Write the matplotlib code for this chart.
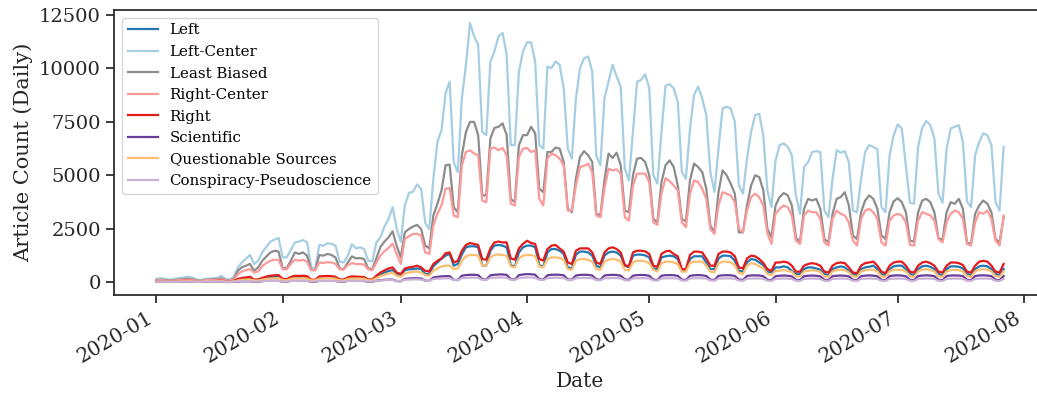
import matplotlib
matplotlib.use("Agg")
import matplotlib.pyplot as plt
import matplotlib.dates as mdates
import pandas as pd

# Daily article counts, 2020-01-01 .. 2020-07-27 (one row per Mon..Sun week)
left = [
    30, 40, 30, 20, 20,
    40, 50, 50, 60, 50, 20, 20,
    40, 40, 50, 50, 60, 30, 30,
    40, 100, 150, 170, 180, 100, 100,
    150, 200, 230, 240, 250, 120, 110,
    190, 230, 230, 240, 220, 100, 90,
    210, 220, 230, 220, 200, 100, 100,
    180, 210, 200, 200, 190, 100, 100,
    230, 350, 450, 520, 560, 370, 300,
    560, 600, 610, 640, 610, 380, 380,
    750, 920, 1100, 1240, 1320, 770, 850,
    1300, 1630, 1680, 1680, 1630, 770, 770,
    1470, 1710, 1740, 1710, 1630, 800, 720,
    1390, 1630, 1710, 1710, 1630, 800, 720,
    1390, 1550, 1550, 1470, 1320, 690, 640,
    1290, 1430, 1430, 1390, 1240, 770, 690,
    1240, 1390, 1430, 1390, 1240, 770, 690,
    1240, 1290, 1290, 1250, 1160, 640, 610,
    1160, 1210, 1240, 1210, 1080, 530, 530,
    1080, 1210, 1210, 1210, 920, 610, 610,
    1110, 1240, 1240, 1210, 1000, 530, 490,
    920, 1080, 1050, 920, 800, 490, 450,
    690, 690, 740, 690, 530, 380, 380,
    610, 690, 690, 640, 580, 380, 330,
    610, 690, 740, 690, 530, 380, 330,
    610, 690, 720, 770, 610, 380, 330,
    610, 740, 770, 770, 610, 380, 330,
    610, 740, 770, 720, 610, 380, 330,
    610, 740, 740, 720, 640, 380, 330,
    610, 740, 770, 740, 610, 380, 330,
    610,
]

left_center = [
    150, 180, 160, 120, 130,
    170, 200, 230, 260, 200, 110, 100,
    150, 170, 180, 200, 300, 150, 120,
    250, 690, 920, 1100, 1270, 850, 1000,
    1400, 1650, 1900, 1990, 2070, 1160, 1160,
    1500, 1860, 1900, 1970, 1870, 700, 620,
    1740, 1710, 1820, 1790, 1700, 960, 920,
    1240, 1780, 1580, 1630, 1550, 1000, 970,
    1860, 2100, 2600, 2960, 3510, 2500, 1890,
    3590, 4180, 4230, 4570, 4370, 2770, 2490,
    4840, 6560, 7110, 8840, 9380, 5620, 5150,
    8600, 10170, 12130, 11500, 11110, 7030, 6880,
    10330, 10800, 11500, 11660, 10640, 6410, 6410,
    9850, 10800, 11220, 11220, 10330, 6410, 6250,
    10090, 10010, 10330, 10170, 9070, 6250, 5780,
    8600, 10010, 10480, 10560, 9850, 5930, 5460,
    8600, 9380, 10170, 9620, 9150, 5310, 4760,
    7030, 9380, 9460, 9730, 9070, 5000, 4610,
    7030, 9200, 9260, 9070, 8440, 5150, 4840,
    7180, 8760, 9150, 8600, 7820, 5150, 4220,
    6250, 8130, 8210, 8130, 7510, 4530, 4140,
    5780, 7030, 7820, 7880, 6850, 4300, 3510,
    5700, 6410, 6490, 6330, 5940, 4060, 3200,
    5390, 5620, 6090, 6130, 6090, 3350, 3040,
    4840, 6170, 6060, 6130, 5620, 3350, 3270,
    4840, 6090, 6410, 6330, 6220, 3510, 3270,
    5940, 6880, 7380, 7190, 5470, 3710, 3670,
    6330, 7220, 7540, 7350, 6720, 4140, 3710,
    6250, 7190, 7270, 7350, 6560, 3780, 3510,
    5940, 6560, 6960, 6880, 6410, 3750, 3350,
    6330,
]

least_biased = [
    100, 110, 100, 80, 80,
    110, 130, 150, 160, 130, 80, 70,
    110, 120, 130, 140, 180, 100, 80,
    150, 530, 700, 770, 850, 530, 690,
    1000, 1200, 1390, 1470, 1430, 660, 650,
    1000, 1390, 1320, 1390, 1240, 570, 560,
    1270, 1240, 1320, 1270, 1150, 640, 610,
    920, 1210, 1110, 1130, 1080, 640, 610,
    1110, 1650, 1900, 2100, 2380, 1700, 1160,
    2330, 2490, 2600, 2680, 2490, 1710, 1580,
    3120, 3670, 4290, 5470, 5500, 3510, 3270,
    5940, 7030, 7500, 7500, 6880, 4060, 4060,
    6720, 7220, 7270, 7430, 6880, 3900, 3740,
    6410, 6880, 6880, 7270, 6960, 4370, 4210,
    6090, 6090, 6300, 6250, 5620, 3430, 3270,
    4840, 5860, 6130, 5940, 5620, 3200, 3120,
    4760, 6020, 5810, 6060, 5470, 3350, 3270,
    5000, 5780, 5810, 5620, 5000, 2960, 2800,
    4680, 5470, 5700, 5390, 4530, 2960, 2840,
    4760, 5550, 5390, 5150, 4370, 2650, 2330,
    4210, 5230, 5000, 4610, 4140, 2330, 2330,
    3590, 4530, 5000, 4920, 4300, 2490, 2100,
    3590, 3980, 4170, 4060, 3590, 2100, 1860,
    3430, 3900, 3820, 3900, 3430, 2020, 1860,
    3200, 3900, 3980, 4210, 3590, 2180, 2020,
    3270, 3820, 4060, 3900, 3430, 2180, 2020,
    3270, 3780, 3930, 3740, 3270, 1940, 1900,
    3270, 3820, 3900, 3740, 3270, 2050, 1990,
    3270, 3740, 3670, 3900, 3430, 1860, 1790,
    3200, 3590, 3820, 3670, 3270, 2020, 1860,
    3040,
]

right_center = [
    80, 90, 80, 60, 60,
    90, 100, 110, 120, 100, 60, 60,
    90, 100, 100, 110, 130, 80, 70,
    120, 380, 500, 560, 610, 450, 500,
    750, 900, 1000, 1050, 1050, 600, 600,
    850, 1050, 1000, 1050, 950, 560, 560,
    920, 900, 930, 920, 850, 600, 580,
    800, 890, 850, 850, 820, 600, 560,
    900, 1240, 1450, 1600, 1800, 1300, 850,
    2020, 2150, 2260, 2260, 2180, 1390, 1320,
    2650, 3200, 3590, 4370, 4400, 3120, 3040,
    5470, 6090, 6170, 6020, 5940, 3820, 3740,
    6250, 6300, 6170, 6280, 5940, 3670, 3590,
    5860, 6250, 6280, 6090, 6170, 3900, 3590,
    5780, 6020, 5940, 5780, 5470, 3350, 3350,
    4530, 5390, 5440, 5550, 5150, 3120, 3040,
    4370, 5310, 5230, 5280, 5080, 3040, 2880,
    4530, 5080, 5080, 5080, 4680, 2800, 2680,
    4140, 4870, 4720, 4530, 4290, 2800, 2570,
    4140, 4760, 4680, 4370, 3900, 2490, 2260,
    3590, 4210, 4140, 4060, 3740, 2490, 2330,
    3350, 3980, 4140, 3980, 3590, 2300, 1790,
    3200, 3430, 3590, 3510, 3120, 1940, 1790,
    3120, 3350, 3270, 3270, 2960, 1860, 1710,
    2960, 3350, 3200, 3120, 2800, 1940, 1710,
    2960, 3350, 3430, 3270, 2960, 1860, 1710,
    2880, 3120, 3200, 3120, 2800, 1740, 1710,
    2880, 3270, 3200, 3120, 2880, 2020, 1860,
    2800, 3200, 3350, 3270, 2960, 1790, 1710,
    2800, 3270, 3200, 3350, 2960, 1940, 1710,
    3120,
]

right = [
    30, 40, 30, 20, 20,
    40, 50, 60, 60, 50, 20, 20,
    40, 50, 50, 60, 70, 30, 30,
    60, 150, 200, 220, 250, 120, 130,
    200, 260, 300, 320, 330, 150, 140,
    240, 300, 290, 300, 280, 120, 110,
    270, 280, 290, 280, 250, 130, 120,
    220, 270, 260, 250, 240, 130, 120,
    300, 450, 550, 640, 690, 450, 380,
    640, 690, 720, 770, 690, 530, 500,
    850, 1000, 1110, 1350, 1390, 920, 1000,
    1470, 1740, 1830, 1790, 1740, 1080, 1050,
    1580, 1860, 1900, 1860, 1860, 1110, 1050,
    1580, 1790, 1940, 1830, 1790, 1080, 1010,
    1550, 1710, 1740, 1580, 1430, 920, 850,
    1470, 1580, 1580, 1580, 1390, 920, 850,
    1390, 1580, 1630, 1550, 1390, 800, 740,
    1390, 1470, 1470, 1440, 1320, 770, 720,
    1320, 1440, 1470, 1320, 1210, 610, 610,
    1270, 1430, 1430, 1390, 1110, 770, 770,
    1320, 1430, 1430, 1390, 1210, 690, 640,
    1110, 1240, 1210, 1080, 900, 610, 530,
    920, 920, 960, 920, 770, 490, 490,
    770, 850, 890, 850, 770, 490, 450,
    770, 890, 920, 890, 690, 450, 420,
    770, 890, 920, 960, 770, 490, 420,
    770, 920, 960, 960, 770, 490, 450,
    770, 920, 960, 890, 770, 490, 450,
    770, 920, 920, 890, 800, 490, 450,
    770, 960, 1000, 960, 770, 490, 450,
    850,
]

scientific = [
    10, 10, 10, 5, 5,
    10, 15, 15, 15, 15, 5, 5,
    15, 15, 20, 20, 20, 5, 5,
    20, 30, 40, 40, 40, 10, 10,
    50, 60, 60, 60, 60, 20, 20,
    60, 60, 60, 60, 60, 20, 15,
    60, 60, 60, 60, 55, 20, 15,
    60, 60, 60, 60, 55, 20, 15,
    70, 90, 110, 120, 120, 50, 40,
    150, 170, 180, 180, 170, 70, 60,
    220, 250, 270, 280, 280, 110, 100,
    300, 330, 345, 345, 330, 140, 120,
    320, 345, 360, 360, 340, 140, 120,
    330, 360, 376, 370, 345, 140, 120,
    320, 345, 350, 345, 320, 130, 110,
    310, 340, 345, 340, 310, 130, 110,
    310, 335, 340, 335, 300, 130, 110,
    300, 330, 335, 330, 300, 120, 100,
    300, 325, 330, 325, 295, 120, 100,
    295, 320, 330, 320, 290, 120, 100,
    295, 320, 325, 320, 290, 120, 100,
    290, 315, 320, 310, 280, 110, 90,
    280, 300, 310, 300, 270, 110, 90,
    280, 300, 310, 300, 270, 110, 90,
    280, 300, 310, 300, 270, 110, 90,
    280, 305, 315, 305, 275, 110, 90,
    285, 310, 320, 310, 270, 110, 90,
    285, 310, 320, 310, 280, 110, 90,
    285, 310, 315, 310, 280, 110, 90,
    285, 315, 320, 310, 280, 110, 90,
    285,
]

questionable = [
    20, 30, 30, 20, 20,
    30, 40, 40, 50, 40, 20, 20,
    60, 40, 40, 40, 50, 20, 20,
    40, 80, 110, 120, 130, 80, 80,
    120, 150, 170, 180, 190, 100, 90,
    150, 180, 180, 190, 170, 90, 80,
    170, 180, 190, 180, 160, 90, 80,
    150, 170, 170, 170, 160, 90, 80,
    200, 280, 350, 400, 450, 300, 250,
    400, 450, 480, 500, 450, 330, 300,
    530, 640, 740, 770, 770, 610, 640,
    1000, 1210, 1270, 1270, 1240, 770, 770,
    1160, 1270, 1300, 1270, 1240, 740, 690,
    1110, 1240, 1270, 1270, 1210, 740, 690,
    1080, 1160, 1160, 1130, 1050, 610, 580,
    1000, 1080, 1080, 1050, 960, 610, 580,
    960, 1050, 1080, 1050, 960, 580, 550,
    920, 1000, 1000, 970, 890, 580, 490,
    890, 960, 960, 920, 850, 490, 490,
    890, 960, 960, 960, 770, 490, 450,
    880, 960, 960, 920, 800, 420, 380,
    770, 890, 850, 740, 650, 380, 330,
    530, 530, 580, 530, 480, 270, 270,
    500, 530, 560, 530, 480, 270, 250,
    500, 560, 580, 560, 450, 270, 250,
    500, 560, 580, 580, 500, 270, 250,
    500, 580, 580, 580, 500, 280, 250,
    500, 580, 610, 560, 500, 280, 250,
    500, 560, 580, 560, 500, 280, 250,
    500, 580, 610, 580, 500, 280, 250,
    500,
]

conspiracy = [
    20, 20, 20, 15, 15,
    20, 25, 25, 25, 25, 15, 15,
    25, 25, 25, 30, 30, 15, 15,
    30, 40, 50, 50, 50, 25, 25,
    50, 60, 60, 60, 60, 30, 30,
    60, 60, 60, 60, 60, 30, 30,
    60, 60, 60, 60, 60, 30, 30,
    60, 60, 60, 60, 60, 30, 30,
    70, 80, 90, 100, 100, 60, 50,
    110, 120, 130, 130, 120, 70, 60,
    150, 160, 170, 180, 180, 100, 90,
    190, 200, 210, 210, 200, 110, 100,
    200, 210, 220, 220, 200, 110, 100,
    200, 210, 220, 220, 200, 110, 100,
    190, 200, 210, 200, 190, 100, 90,
    185, 195, 200, 195, 185, 95, 85,
    180, 190, 195, 190, 180, 90, 80,
    175, 185, 190, 185, 175, 85, 75,
    170, 180, 185, 180, 170, 80, 70,
    170, 180, 185, 180, 165, 80, 70,
    165, 175, 180, 175, 160, 75, 65,
    160, 170, 175, 170, 155, 70, 60,
    155, 165, 170, 165, 150, 65, 55,
    155, 165, 170, 165, 150, 65, 55,
    155, 165, 170, 165, 150, 65, 55,
    155, 165, 170, 165, 150, 65, 55,
    155, 165, 170, 165, 150, 65, 55,
    155, 165, 170, 165, 150, 65, 55,
    155, 165, 170, 165, 150, 65, 55,
    155, 165, 170, 165, 150, 65, 55,
    155,
]

series_names = ["Left", "Left-Center", "Least Biased", "Right-Center", "Right",
                "Scientific", "Questionable Sources", "Conspiracy-Pseudoscience"]
series_values = [left, left_center, least_biased, right_center, right,
                 scientific, questionable, conspiracy]
series_colors = ["#1f78b4", "#a6cee3", "#8c8c8c", "#fb9a99", "#e31a1c",
                 "#6a3d9a", "#fdbf6f", "#cab2d6"]

start_date = "2020-01-01"
dates = pd.date_range(start_date, periods=len(left_center), freq="D")

plt.rcParams["font.family"] = ["DejaVu Serif"]
plt.rcParams["axes.edgecolor"] = "#262626"
plt.rcParams["axes.linewidth"] = 1.25
plt.rcParams["xtick.direction"] = "out"
plt.rcParams["ytick.direction"] = "out"
plt.rcParams["xtick.major.size"] = 6
plt.rcParams["ytick.major.size"] = 6
plt.rcParams["xtick.major.width"] = 1.25
plt.rcParams["ytick.major.width"] = 1.25
plt.rcParams["xtick.color"] = "#262626"
plt.rcParams["ytick.color"] = "#262626"

W, H = 1037, 393
fig = plt.figure(figsize=(W / 100, H / 100), dpi=100)
ax = fig.add_axes([114 / W, (H - 295) / H, (1046 - 114) / W, (295 - 10) / H])

for name, vals, col in zip(series_names, series_values, series_colors):
    ax.plot(dates, vals, color=col, lw=1.6, label=name)

ax.xaxis.set_major_locator(mdates.MonthLocator())
ax.xaxis.set_major_formatter(mdates.DateFormatter("%Y-%m"))
ax.set_yticks([0, 2500, 5000, 7500, 10000, 12500])
ax.tick_params(axis="x", labelsize=14.5, colors="#262626")
ax.tick_params(axis="y", labelsize=14, colors="#262626")
for lab in ax.get_xticklabels():
    lab.set_rotation(30)
    lab.set_ha("right")

ax.set_xlabel("Date", fontsize=14.5, color="#262626")
ax.set_ylabel("Article Count (Daily)", fontsize=15, color="#262626")

leg = ax.legend(loc="upper left", fontsize=10.8, frameon=True)

fig.savefig("out.png", dpi=100)
